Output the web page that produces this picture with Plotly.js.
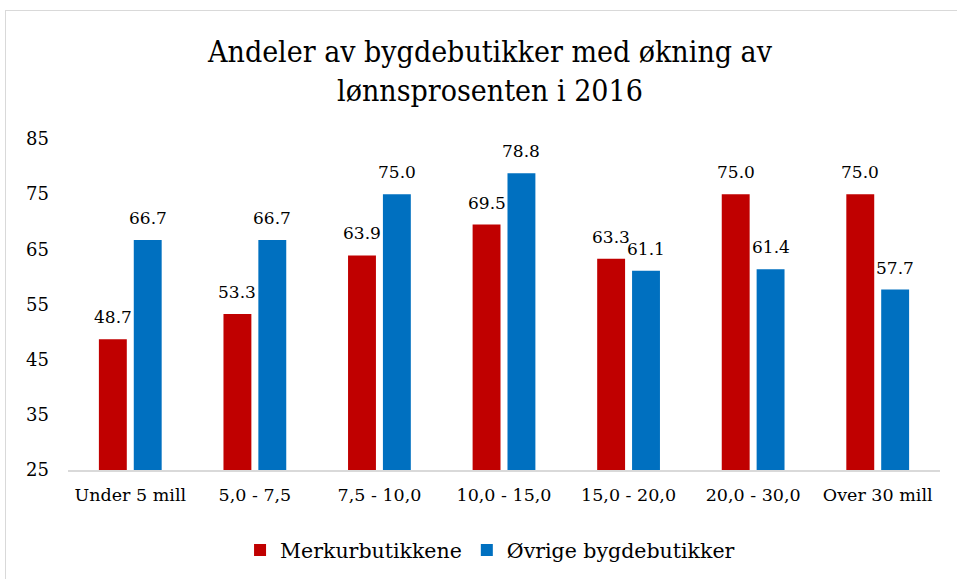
<!DOCTYPE html>
<html>
<head>
<meta charset="utf-8">
<script src="https://cdn.plot.ly/plotly-3.0.1.min.js"></script>
<style>
html,body{margin:0;padding:0;background:#fff;}
#wrap{position:relative;width:957px;height:579px;overflow:hidden;}
#chart{width:957px;height:579px;}
#frame{position:absolute;left:5px;top:10px;width:980px;height:600px;border:1px solid #d9d9d9;pointer-events:none;}
</style>
</head>
<body>
<div id="wrap"><div id="chart"></div><div id="frame"></div></div>
<script>
const categories = ["Under 5 mill", "5,0 - 7,5", "7,5 - 10,0", "10,0 - 15,0", "15,0 - 20,0", "20,0 - 30,0", "Over 30 mill"];
const merkur = [48.7, 53.3, 63.9, 69.5, 63.3, 75.0, 75.0];
const ovrige = [66.7, 66.7, 75.0, 78.8, 61.1, 61.4, 57.7];
const yTicks = [25, 35, 45, 55, 65, 75, 85];

const font = "DejaVu Serif, serif";
const titleFont = "DejaVu Serif Condensed, DejaVu Serif, serif";

const W = 957, H = 579;
const margin = {l:68, r:17, t:139, b:109, autoexpand:false};
const bargap = 0.44, bargroupgap = 0.2;

const traces = [
  {type:'bar', name:'Merkurbutikkene', x:categories, y:merkur,
   marker:{color:'#C00000'}, hoverinfo:'x+y'},
  {type:'bar', name:'Øvrige bygdebutikker', x:categories, y:ovrige,
   marker:{color:'#0070C0'}, hoverinfo:'x+y'}
];

// value labels placed through the category/value axes, offset to each bar of the group
const catW = (W - margin.l - margin.r) / categories.length;
const half = catW * (1 - bargap) / 4;
const annotations = [];
[[merkur, -half], [ovrige, half]].forEach(([vals, dx]) => {
  vals.forEach((v, i) => {
    annotations.push({x: categories[i], y: v, xref:'x', yref:'y', text: v.toFixed(1),
      showarrow:false, xanchor:'center', yanchor:'bottom', xshift: dx, yshift: 10,
      font:{family:font, size:17, color:'#000'}});
  });
});

const layout = {
  width:W, height:H,
  margin: margin,
  paper_bgcolor:'#fff', plot_bgcolor:'#fff',
  font:{family:font, size:17, color:'#000'},
  title:{text:'Andeler av bygdebutikker med økning av<br>lønnsprosenten i 2016',
         font:{family:titleFont, size:30, color:'#000'}, x:0.512, xanchor:'center', y:0.893, yanchor:'middle'},
  barmode:'group', bargap:bargap, bargroupgap:bargroupgap,
  xaxis:{showline:true, linecolor:'#d9d9d9', linewidth:2, ticks:'', showgrid:false, automargin:false,
         ticklabelstandoff:8, tickfont:{family:font, size:17.5, color:'#000'}},
  yaxis:{range:[25,85], tickvals:yTicks, ticktext:yTicks.map(String), showgrid:false, automargin:false,
         zeroline:false, showline:false, ticks:'', ticklabelstandoff:18,
         tickfont:{family:font, size:18, color:'#000'}},
  legend:{orientation:'h', x:0.484, xanchor:'center', y:-0.182, yanchor:'top',
          font:{family:font, size:20.5, color:'#000'}, itemwidth:30},
  annotations: annotations
};

Plotly.newPlot('chart', traces, layout, {displayModeBar:false, staticPlot:true});
</script>
</body>
</html>
